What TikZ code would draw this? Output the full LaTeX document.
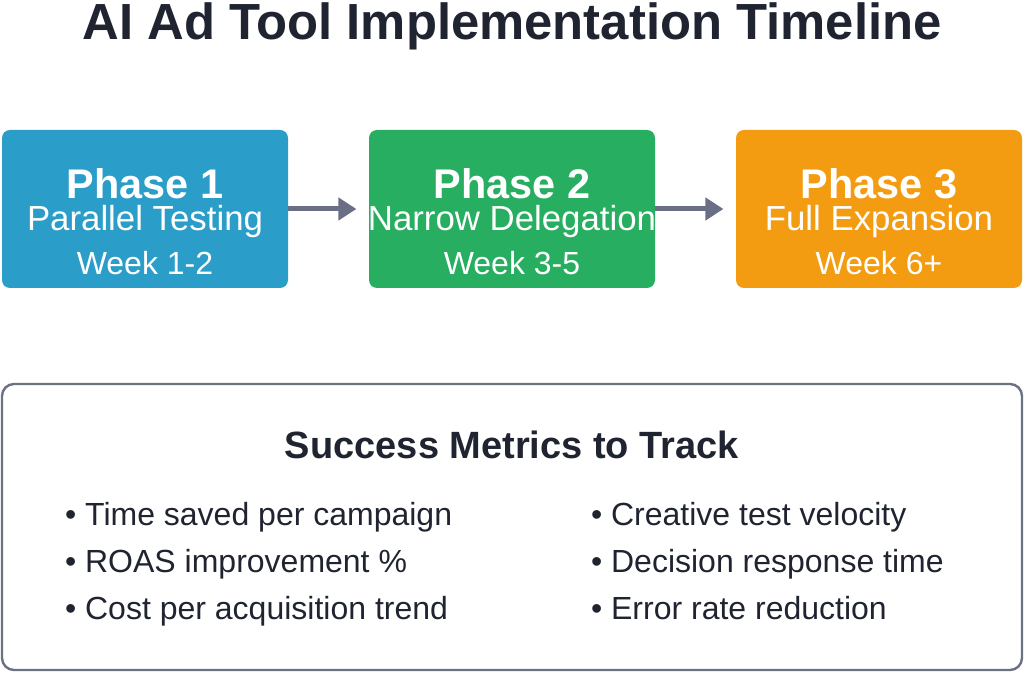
\documentclass[tikz,border=0pt]{standalone}
\usepackage{fontspec}
\setmainfont{Liberation Sans}
\usetikzlibrary{arrows.meta}
\definecolor{pblue}{HTML}{2A9DC8}
\definecolor{pgreen}{HTML}{27AE60}
\definecolor{porange}{HTML}{F39C12}
\definecolor{arrowgray}{HTML}{6B6F85}
\definecolor{ink}{HTML}{1F2430}
\definecolor{edgegray}{HTML}{6B7280}
\begin{document}
\begin{tikzpicture}[x=0.5pt,y=-0.5pt]
        \tikzset{phase/.style = {rounded corners=4pt, minimum width=143pt, minimum height=79pt, inner sep=0pt, text=white, align=center}}
        \tikzset{nextphase/.style = {-{Triangle[length=9pt,width=11pt]}, line width=2.5pt, arrowgray}}
        \useasboundingbox (0,0) rectangle (1024,673);

        \node (title) at (512,26) {\fontsize{25.4}{30}\selectfont\bfseries\color{ink}AI Ad Tool Implementation Timeline};

        \node[phase, fill=pblue] (p1) at (145,209) {};
        \node[phase, fill=pgreen] (p2) at (512,209) {};
        \node[phase, fill=porange] (p3) at (879,209) {};

        \foreach \p/\a/\b/\c in {p1/Phase 1/Parallel Testing/Week 1-2, p2/Phase 2/Narrow Delegation/Week 3-5, p3/Phase 3/Full Expansion/Week 6+} {
          \node[white, inner sep=0pt] (\p t) at ([yshift=12.5pt]\p.center) {\fontsize{20.7}{24}\selectfont\bfseries \a};
          \node[white, inner sep=0pt] (\p s) at ([yshift=-6.5pt]\p.center) {\fontsize{17.4}{20}\selectfont \b};
          \node[white, inner sep=0pt] (\p w) at ([yshift=-27pt]\p.center) {\fontsize{16}{19}\selectfont \c};
        }

        \draw[nextphase] (p1.east) -- ([xshift=34pt]p1.east);
        \draw[nextphase] (p2.east) -- ([xshift=34pt]p2.east);

        \node[draw=edgegray, line width=1.2pt, rounded corners=6pt, minimum width=510pt, minimum height=143pt] (metrics) at (512,527) {};
        \node[ink] (mhead) at (512,445) {\fontsize{19}{22}\selectfont\bfseries Success Metrics to Track};

        \foreach \t [count=\i] in {Time saved per campaign, ROAS improvement \%, Cost per acquisition trend}
          \node[ink, anchor=base west] (l\i) at (58,479+47*\i) {\fontsize{16}{19}\selectfont • \t};
        \foreach \t [count=\i] in {Creative test velocity, Decision response time, Error rate reduction}
          \node[ink, anchor=base west] (r\i) at (584,479+47*\i) {\fontsize{16}{19}\selectfont • \t};
\end{tikzpicture}
\end{document}
